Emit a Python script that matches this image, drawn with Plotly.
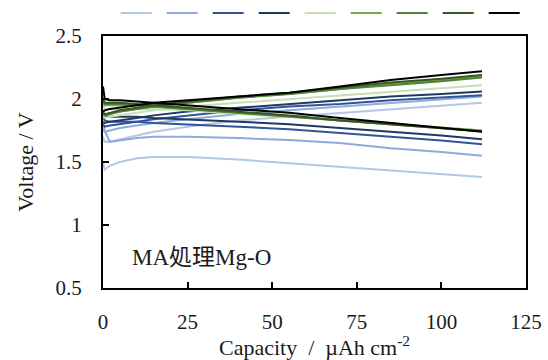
import plotly.graph_objects as go

cap = [0, 0.5, 2, 5, 10, 15, 25, 40, 55, 70, 85, 100, 112]

colors = ["#B4C7E7", "#8FAADC", "#2F5597", "#1F3864",
          "#C5E0B4", "#70AD47", "#548235", "#385723", "#000000"]

# Discharge voltages (V) per series
dis1 = [1.50, 1.44, 1.47, 1.50, 1.53, 1.54, 1.54, 1.52, 1.49, 1.46, 1.43, 1.40, 1.38]
dis2 = [1.82, 1.75, 1.66, 1.67, 1.69, 1.70, 1.70, 1.69, 1.675, 1.65, 1.61, 1.58, 1.55]
dis3 = [1.86, 1.83, 1.82, 1.82, 1.82, 1.81, 1.80, 1.78, 1.76, 1.73, 1.70, 1.67, 1.64]
dis4 = [1.90, 1.87, 1.86, 1.86, 1.86, 1.85, 1.84, 1.82, 1.80, 1.77, 1.74, 1.71, 1.68]
dis5 = [1.96, 1.92, 1.92, 1.92, 1.92, 1.92, 1.91, 1.88, 1.86, 1.83, 1.80, 1.77, 1.75]
dis6 = [1.98, 1.95, 1.95, 1.95, 1.95, 1.94, 1.92, 1.89, 1.86, 1.83, 1.80, 1.77, 1.75]
dis7 = [1.99, 1.96, 1.96, 1.96, 1.95, 1.94, 1.92, 1.89, 1.86, 1.83, 1.80, 1.77, 1.745]
dis8 = [2.00, 1.97, 1.97, 1.97, 1.96, 1.95, 1.93, 1.90, 1.87, 1.83, 1.80, 1.77, 1.745]
dis9 = [2.10, 2.00, 1.99, 1.99, 1.98, 1.97, 1.95, 1.92, 1.89, 1.85, 1.81, 1.77, 1.74]

# Charge voltages (V) per series
chg1 = [1.70, 1.66, 1.66, 1.68, 1.71, 1.74, 1.78, 1.83, 1.86, 1.89, 1.92, 1.95, 1.97]
chg2 = [1.76, 1.74, 1.75, 1.77, 1.79, 1.81, 1.84, 1.88, 1.91, 1.94, 1.97, 2.00, 2.02]
chg3 = [1.80, 1.78, 1.79, 1.80, 1.82, 1.84, 1.87, 1.91, 1.94, 1.96, 1.99, 2.01, 2.03]
chg4 = [1.82, 1.81, 1.82, 1.83, 1.85, 1.87, 1.90, 1.93, 1.96, 1.99, 2.02, 2.04, 2.06]
chg5 = [1.86, 1.85, 1.86, 1.87, 1.89, 1.91, 1.94, 1.97, 2.00, 2.03, 2.06, 2.09, 2.11]
chg6 = [1.88, 1.87, 1.88, 1.90, 1.92, 1.94, 1.97, 2.01, 2.04, 2.08, 2.12, 2.15, 2.18]
chg7 = [1.88, 1.87, 1.88, 1.90, 1.92, 1.94, 1.97, 2.01, 2.04, 2.08, 2.11, 2.14, 2.17]
chg8 = [1.89, 1.88, 1.89, 1.91, 1.93, 1.95, 1.98, 2.02, 2.05, 2.09, 2.13, 2.16, 2.19]
chg9 = [1.90, 1.91, 1.92, 1.93, 1.95, 1.97, 1.99, 2.02, 2.05, 2.10, 2.15, 2.19, 2.22]

discharges = [dis1, dis2, dis3, dis4, dis5, dis6, dis7, dis8, dis9]
charges = [chg1, chg2, chg3, chg4, chg5, chg6, chg7, chg8, chg9]

x_ticks = [0, 25, 50, 75, 100, 125]
y_ticks = [0.5, 1, 1.5, 2, 2.5]
y_ticktext = ["0.5", "1", "1.5", "2", "2.5"]

serif = "Liberation Serif, Times New Roman, serif"
cjk = "Liberation Serif, Noto Sans CJK JP, serif"

fig = go.Figure()
for i, (d, c) in enumerate(zip(discharges, charges)):
    fig.add_trace(go.Scatter(x=cap, y=d, mode="lines", name="",
                             line=dict(color=colors[i], width=2),
                             legendgroup=f"s{i}", showlegend=True))
    fig.add_trace(go.Scatter(x=cap, y=c, mode="lines", name="",
                             line=dict(color=colors[i], width=2),
                             legendgroup=f"s{i}", showlegend=False))

fig.update_layout(
    width=548, height=360,
    margin=dict(l=103, r=22, t=36, b=72, autoexpand=False),
    paper_bgcolor="white", plot_bgcolor="white",
    font=dict(family=serif, size=21, color="#1a1a1a"),
    showlegend=True,
    legend=dict(orientation="h", x=0.03, xanchor="left", y=1.091, yanchor="middle",
                font=dict(size=10), bgcolor="rgba(0,0,0,0)",
                traceorder="normal", itemwidth=31),
    xaxis=dict(range=[0, 125], tickvals=x_ticks, ticktext=[str(v) for v in x_ticks],
               showgrid=False, zeroline=False, showline=True, linecolor="black",
               linewidth=2, mirror=True, ticks="inside", ticklen=6, tickwidth=2,
               tickcolor="black", ticklabelstandoff=14,
               title=dict(text="Capacity  /  µAh cm<sup>-2</sup>", standoff=4,
                          font=dict(size=22))),
    yaxis=dict(range=[0.5, 2.5], tickvals=y_ticks, ticktext=y_ticktext,
               showgrid=False, zeroline=False, showline=True, linecolor="black",
               linewidth=2, mirror=True, ticks="inside", ticklen=6, tickwidth=2,
               tickcolor="black", ticklabelstandoff=15,
               title=dict(text="Voltage / V", standoff=16, font=dict(size=22))),
    annotations=[dict(x=0.063, y=0.12, xref="paper", yref="paper", xanchor="left",
                      yanchor="middle", text="MA処理Mg-O", showarrow=False,
                      font=dict(family=cjk, size=23, color="#1a1a1a"))],
)

fig.write_html("out.html")
